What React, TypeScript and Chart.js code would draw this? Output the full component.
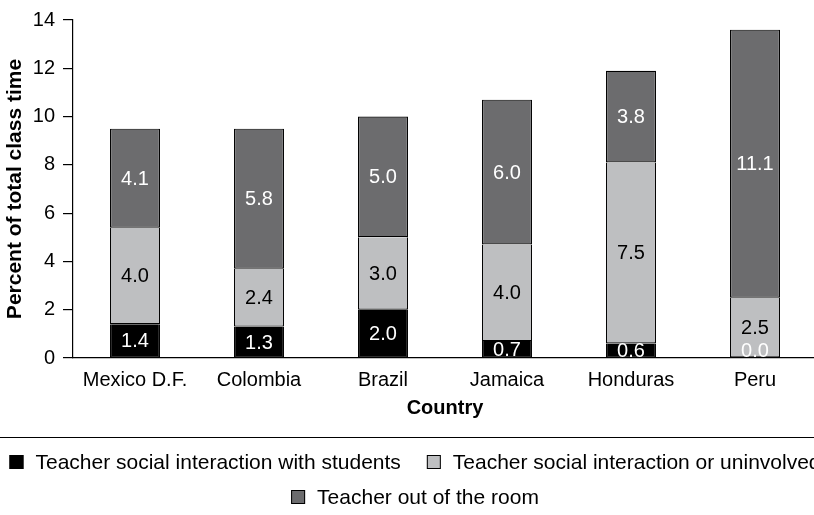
import React, { useEffect, useRef } from "react";
import { Chart, registerables } from "chart.js";

Chart.register(...registerables);

const categories = ["Mexico D.F.", "Colombia", "Brazil", "Jamaica", "Honduras", "Peru"];
const withStudents = [1.4, 1.3, 2.0, 0.7, 0.6, 0.0];
const uninvolved = [4.0, 2.4, 3.0, 4.0, 7.5, 2.5];
const outOfRoom = [4.1, 5.8, 5.0, 6.0, 3.8, 11.1];
const seriesNames = [
  "Teacher social interaction with students",
  "Teacher social interaction or uninvolved",
  "Teacher out of the room",
];
const yMin = 0;
const yMax = 14;
const yStep = 2;
const yAxisTitle = "Percent of total class time";
const xAxisTitle = "Country";

const FONT = '"Liberation Sans", Arial, Helvetica, sans-serif';
const fillColors = ["#000000", "#bebfc1", "#6c6c6e"];
const labelColors = ["#ffffff", "#000000", "#ffffff"];

const valueLabelPlugin = {
  id: "valueLabels",
  afterDatasetsDraw(chart: any) {
    const ctx = chart.ctx;
    const zeroY = chart.scales.y.getPixelForValue(0);
    ctx.save();
    ctx.font = `20px ${FONT}`;
    ctx.textAlign = "center";
    ctx.textBaseline = "middle";
    chart.data.datasets.forEach((ds: any, di: number) => {
      const meta = chart.getDatasetMeta(di);
      meta.data.forEach((bar: any, i: number) => {
        const v = ds.data[i];
        const p = bar.getProps(["x", "y", "base"], true);
        let cy = (p.y + p.base) / 2;
        cy = Math.min(cy, zeroY - 8);
        ctx.fillStyle = labelColors[di];
        ctx.fillText(Number(v).toFixed(1), p.x, cy + 1);
      });
    });
    ctx.restore();
  },
};

const legendPlugin = {
  id: "customLegend",
  afterDraw(chart: any) {
    const ctx = chart.ctx;
    const W = chart.width;
    const lineY = chart.chartArea.bottom + 79.5;
    ctx.save();
    ctx.strokeStyle = "#000";
    ctx.lineWidth = 1.2;
    ctx.beginPath();
    ctx.moveTo(0, lineY);
    ctx.lineTo(W, lineY);
    ctx.stroke();

    ctx.font = `21px ${FONT}`;
    ctx.textBaseline = "middle";
    ctx.textAlign = "left";
    const box = 14;
    const gap = 12;
    const itemGap = 26;
    const rows = [[0, 1], [2]];
    const rowYs = [lineY + 25, lineY + 60];
    rows.forEach((row, ri) => {
      const widths = row.map((i) => box + gap + ctx.measureText(seriesNames[i]).width);
      const total = widths.reduce((a, b) => a + b, 0) + itemGap * (row.length - 1);
      let x = (W - total) / 2;
      const cy = rowYs[ri];
      row.forEach((i, k) => {
        ctx.fillStyle = fillColors[i];
        ctx.fillRect(x, cy - box / 2 - 0.5, box, box);
        ctx.strokeStyle = "#000";
        ctx.lineWidth = 1;
        ctx.strokeRect(x + 0.5, cy - box / 2, box - 1, box - 1);
        ctx.fillStyle = "#000";
        ctx.fillText(seriesNames[i], x + box + gap, cy + 1);
        x += widths[k] + itemGap;
      });
    });
    ctx.restore();
  },
};

export default function App() {
  const ref = useRef<HTMLCanvasElement>(null);

  useEffect(() => {
    if (!ref.current) return;
    Chart.defaults.font.family = FONT;
    Chart.defaults.color = "#000";
    const data = [withStudents, uninvolved, outOfRoom];
    const chart = new Chart(ref.current, {
      type: "bar",
      data: {
        labels: categories,
        datasets: data.map((d, i) => ({
          label: seriesNames[i],
          data: d,
          backgroundColor: fillColors[i],
          borderColor: "#000",
          borderWidth: 1.2,
          borderSkipped: i === data.length - 1 ? false : "end",
          barPercentage: 0.403,
          categoryPercentage: 1,
        })),
      },
      options: {
        responsive: false,
        animation: false,
        devicePixelRatio: 1,
        layout: { padding: { top: 15, right: 13, bottom: 91, left: 0 } },
        plugins: {
          legend: { display: false },
          tooltip: { enabled: false },
        },
        scales: {
          x: {
            stacked: true,
            grid: { display: false, drawTicks: false },
            border: { display: true, color: "#000", width: 1.2 },
            ticks: { font: { size: 20 }, color: "#000", padding: 10 },
            title: {
              display: true,
              text: xAxisTitle,
              font: { size: 20, weight: "bold" },
              color: "#000",
              padding: { top: 0, bottom: 4 },
            },
            afterFit(scale: any) {
              scale.height = 66;
            },
          },
          y: {
            stacked: true,
            min: yMin,
            max: yMax,
            ticks: { stepSize: yStep, font: { size: 20 }, color: "#000", padding: 8 },
            grid: {
              display: true,
              drawOnChartArea: false,
              drawTicks: true,
              tickLength: 10,
              color: "#000",
              lineWidth: 1.2,
            },
            border: { display: true, color: "#000", width: 1.2 },
            title: {
              display: true,
              text: yAxisTitle,
              font: { size: 21, weight: "bold" },
              color: "#000",
              padding: { top: 3, bottom: 0 },
            },
            afterFit(scale: any) {
              scale.width = 73;
            },
          },
        },
      },
      plugins: [valueLabelPlugin, legendPlugin],
    });
    return () => chart.destroy();
  }, []);

  return (
    <div
      style={{
        position: "fixed",
        left: 0,
        top: 0,
        width: 814,
        height: 515,
        overflow: "hidden",
        background: "#fff",
      }}
    >
      <canvas ref={ref} width={830} height={515} style={{ display: "block" }} />
    </div>
  );
}
